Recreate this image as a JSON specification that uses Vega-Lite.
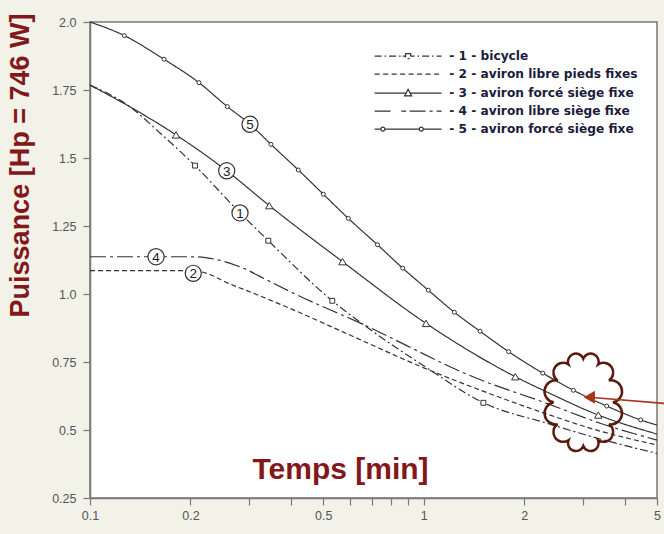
{
  "$schema": "https://vega.github.io/schema/vega-lite/v6.json",
  "width": 567,
  "height": 476,
  "autosize": {"type": "none"},
  "padding": {"left": 90, "top": 22, "right": 7, "bottom": 36},
  "background": "#f2f2e8",
  "config": {
    "font": "Liberation Sans",
    "view": {"stroke": "#777777", "strokeWidth": 1.5, "fill": "white"}
  },
  "datasets": {
    "curves": [
      {"s": "- 1 - bicycle", "t": 0.1, "p": 1.768},
      {"s": "- 1 - bicycle", "t": 0.1318, "p": 1.688},
      {"s": "- 1 - bicycle", "t": 0.1621, "p": 1.592},
      {"s": "- 1 - bicycle", "t": 0.2064, "p": 1.472},
      {"s": "- 1 - bicycle", "t": 0.2815, "p": 1.298},
      {"s": "- 1 - bicycle", "t": 0.3422, "p": 1.196},
      {"s": "- 1 - bicycle", "t": 0.5322, "p": 0.975},
      {"s": "- 1 - bicycle", "t": 0.659, "p": 0.888},
      {"s": "- 1 - bicycle", "t": 1.023, "p": 0.728},
      {"s": "- 1 - bicycle", "t": 1.509, "p": 0.6},
      {"s": "- 1 - bicycle", "t": 2.336, "p": 0.525},
      {"s": "- 1 - bicycle", "t": 3.375, "p": 0.467},
      {"s": "- 1 - bicycle", "t": 5, "p": 0.414},
      {"s": "- 2 - aviron libre pieds fixes", "t": 0.1, "p": 1.086},
      {"s": "- 2 - aviron libre pieds fixes", "t": 0.2, "p": 1.086},
      {"s": "- 2 - aviron libre pieds fixes", "t": 0.2237, "p": 1.076},
      {"s": "- 2 - aviron libre pieds fixes", "t": 0.2568, "p": 1.042},
      {"s": "- 2 - aviron libre pieds fixes", "t": 0.3086, "p": 1.003},
      {"s": "- 2 - aviron libre pieds fixes", "t": 0.3975, "p": 0.947},
      {"s": "- 2 - aviron libre pieds fixes", "t": 0.6012, "p": 0.849},
      {"s": "- 2 - aviron libre pieds fixes", "t": 1.0207, "p": 0.724},
      {"s": "- 2 - aviron libre pieds fixes", "t": 1.475, "p": 0.647},
      {"s": "- 2 - aviron libre pieds fixes", "t": 2.336, "p": 0.559},
      {"s": "- 2 - aviron libre pieds fixes", "t": 3.375, "p": 0.496},
      {"s": "- 2 - aviron libre pieds fixes", "t": 5, "p": 0.445},
      {"s": "- 3 - aviron forcé siège fixe", "t": 0.1, "p": 1.768},
      {"s": "- 3 - aviron forcé siège fixe", "t": 0.1318, "p": 1.688},
      {"s": "- 3 - aviron forcé siège fixe", "t": 0.181, "p": 1.585},
      {"s": "- 3 - aviron forcé siège fixe", "t": 0.2568, "p": 1.453},
      {"s": "- 3 - aviron forcé siège fixe", "t": 0.3445, "p": 1.325},
      {"s": "- 3 - aviron forcé siège fixe", "t": 0.571, "p": 1.119},
      {"s": "- 3 - aviron forcé siège fixe", "t": 1.016, "p": 0.892},
      {"s": "- 3 - aviron forcé siège fixe", "t": 1.881, "p": 0.696},
      {"s": "- 3 - aviron forcé siège fixe", "t": 2.336, "p": 0.64},
      {"s": "- 3 - aviron forcé siège fixe", "t": 3.335, "p": 0.555},
      {"s": "- 3 - aviron forcé siège fixe", "t": 5, "p": 0.485},
      {"s": "- 4 - aviron libre siège fixe", "t": 0.1, "p": 1.137},
      {"s": "- 4 - aviron libre siège fixe", "t": 0.2, "p": 1.137},
      {"s": "- 4 - aviron libre siège fixe", "t": 0.2237, "p": 1.133},
      {"s": "- 4 - aviron libre siège fixe", "t": 0.2815, "p": 1.1},
      {"s": "- 4 - aviron libre siège fixe", "t": 0.3384, "p": 1.052},
      {"s": "- 4 - aviron libre siège fixe", "t": 0.3975, "p": 1.009},
      {"s": "- 4 - aviron libre siège fixe", "t": 0.659, "p": 0.888},
      {"s": "- 4 - aviron libre siège fixe", "t": 1.441, "p": 0.69},
      {"s": "- 4 - aviron libre siège fixe", "t": 2.336, "p": 0.598},
      {"s": "- 4 - aviron libre siège fixe", "t": 3.375, "p": 0.525},
      {"s": "- 4 - aviron libre siège fixe", "t": 5, "p": 0.463},
      {"s": "- 5 - aviron forcé siège fixe", "t": 0.1, "p": 2.0},
      {"s": "- 5 - aviron forcé siège fixe", "t": 0.1267, "p": 1.95},
      {"s": "- 5 - aviron forcé siège fixe", "t": 0.1666, "p": 1.863},
      {"s": "- 5 - aviron forcé siège fixe", "t": 0.2121, "p": 1.777},
      {"s": "- 5 - aviron forcé siège fixe", "t": 0.2579, "p": 1.689},
      {"s": "- 5 - aviron forcé siège fixe", "t": 0.3016, "p": 1.624},
      {"s": "- 5 - aviron forcé siège fixe", "t": 0.3486, "p": 1.55},
      {"s": "- 5 - aviron forcé siège fixe", "t": 0.4209, "p": 1.456},
      {"s": "- 5 - aviron forcé siège fixe", "t": 0.5002, "p": 1.367},
      {"s": "- 5 - aviron forcé siège fixe", "t": 0.5943, "p": 1.278},
      {"s": "- 5 - aviron forcé siège fixe", "t": 0.7268, "p": 1.181},
      {"s": "- 5 - aviron forcé siège fixe", "t": 0.865, "p": 1.095},
      {"s": "- 5 - aviron forcé siège fixe", "t": 1.032, "p": 1.014},
      {"s": "- 5 - aviron forcé siège fixe", "t": 1.235, "p": 0.933},
      {"s": "- 5 - aviron forcé siège fixe", "t": 1.475, "p": 0.863},
      {"s": "- 5 - aviron forcé siège fixe", "t": 1.797, "p": 0.788},
      {"s": "- 5 - aviron forcé siège fixe", "t": 2.273, "p": 0.709},
      {"s": "- 5 - aviron forcé siège fixe", "t": 2.808, "p": 0.646},
      {"s": "- 5 - aviron forcé siège fixe", "t": 3.534, "p": 0.588},
      {"s": "- 5 - aviron forcé siège fixe", "t": 4.467, "p": 0.537},
      {"s": "- 5 - aviron forcé siège fixe", "t": 5, "p": 0.518}
    ],
    "markers": [
      {"s": "- 1 - bicycle", "t": 0.2064, "p": 1.472},
      {"s": "- 1 - bicycle", "t": 0.3422, "p": 1.196},
      {"s": "- 1 - bicycle", "t": 0.5322, "p": 0.975},
      {"s": "- 1 - bicycle", "t": 1.509, "p": 0.6},
      {"s": "- 3 - aviron forcé siège fixe", "t": 0.181, "p": 1.585},
      {"s": "- 3 - aviron forcé siège fixe", "t": 0.3445, "p": 1.325},
      {"s": "- 3 - aviron forcé siège fixe", "t": 0.571, "p": 1.119},
      {"s": "- 3 - aviron forcé siège fixe", "t": 1.016, "p": 0.892},
      {"s": "- 3 - aviron forcé siège fixe", "t": 1.881, "p": 0.696},
      {"s": "- 3 - aviron forcé siège fixe", "t": 3.335, "p": 0.555},
      {"s": "- 5 - aviron forcé siège fixe", "t": 0.1267, "p": 1.95},
      {"s": "- 5 - aviron forcé siège fixe", "t": 0.1666, "p": 1.863},
      {"s": "- 5 - aviron forcé siège fixe", "t": 0.2121, "p": 1.777},
      {"s": "- 5 - aviron forcé siège fixe", "t": 0.2579, "p": 1.689},
      {"s": "- 5 - aviron forcé siège fixe", "t": 0.3486, "p": 1.55},
      {"s": "- 5 - aviron forcé siège fixe", "t": 0.4209, "p": 1.456},
      {"s": "- 5 - aviron forcé siège fixe", "t": 0.5002, "p": 1.367},
      {"s": "- 5 - aviron forcé siège fixe", "t": 0.5943, "p": 1.278},
      {"s": "- 5 - aviron forcé siège fixe", "t": 0.7268, "p": 1.181},
      {"s": "- 5 - aviron forcé siège fixe", "t": 0.865, "p": 1.095},
      {"s": "- 5 - aviron forcé siège fixe", "t": 1.032, "p": 1.014},
      {"s": "- 5 - aviron forcé siège fixe", "t": 1.235, "p": 0.933},
      {"s": "- 5 - aviron forcé siège fixe", "t": 1.475, "p": 0.863},
      {"s": "- 5 - aviron forcé siège fixe", "t": 1.797, "p": 0.788},
      {"s": "- 5 - aviron forcé siège fixe", "t": 2.273, "p": 0.709},
      {"s": "- 5 - aviron forcé siège fixe", "t": 2.808, "p": 0.646},
      {"s": "- 5 - aviron forcé siège fixe", "t": 3.534, "p": 0.588},
      {"s": "- 5 - aviron forcé siège fixe", "t": 4.467, "p": 0.537}
    ],
    "tags": [
      {"n": "5", "t": 0.3016, "p": 1.624},
      {"n": "3", "t": 0.2568, "p": 1.453},
      {"n": "1", "t": 0.2815, "p": 1.298},
      {"n": "4", "t": 0.1577, "p": 1.137},
      {"n": "2", "t": 0.2039, "p": 1.076}
    ],
    "cloud": [{"t": 3.007, "p": 0.6017}],
    "arrow": [{"t": 5.248, "p": 0.598, "t2": 3.134, "p2": 0.6206}],
    "head": [{"t": 3.134, "p": 0.6206}]
  },
  "encoding": {
    "x": {
      "field": "t", "type": "quantitative",
      "scale": {"type": "log", "domain": [0.1, 5], "nice": false},
      "axis": {
        "values": [0.1, 0.2, 0.3, 0.4, 0.5, 0.6, 0.7, 0.8, 0.9, 1, 2, 3, 4, 5],
        "labelExpr": "indexof([0.1, 0.2, 0.5, 1, 2, 5], datum.value) >= 0 ? toString(datum.value) : ''",
        "labelOverlap": false, "labelFlush": false, "grid": false,
        "labelFont": "Liberation Sans", "labelFontSize": 12.5, "labelColor": "#555555", "labelPadding": 4,
        "tickSize": 7, "tickColor": "#777777", "tickWidth": 1.2,
        "domainColor": "#777777", "domainWidth": 1.5,
        "title": "Temps [min]", "titleX": 250, "titleY": -20, "titleAlign": "center", "titleBaseline": "alphabetic",
        "titleFont": "Liberation Sans", "titleFontSize": 30, "titleFontWeight": "bold", "titleColor": "#82181a"
      }
    },
    "y": {
      "field": "p", "type": "quantitative",
      "scale": {"domain": [0.25, 2.0], "nice": false, "zero": false},
      "axis": {
        "values": [0.25, 0.5, 0.75, 1, 1.25, 1.5, 1.75, 2],
        "labelExpr": "datum.value == 2 ? '2.0' : datum.value == 1 ? '1.0' : toString(datum.value)",
        "grid": false,
        "labelFont": "Liberation Sans", "labelFontSize": 12.5, "labelColor": "#555555", "labelPadding": 7,
        "tickSize": 7, "tickColor": "#777777", "tickWidth": 1.2,
        "domainColor": "#777777", "domainWidth": 1.5,
        "title": "Puissance [Hp = 746 W]", "titleX": -56, "titleY": 143, "titleAlign": "center", "titleBaseline": "bottom", "titleAngle": -90,
        "titleFont": "Liberation Sans", "titleFontSize": 27, "titleFontWeight": "bold", "titleColor": "#82181a"
      }
    }
  },
  "layer": [
    {
      "data": {"name": "curves"},
      "mark": {"type": "line", "interpolate": "monotone", "color": "#333333", "strokeWidth": 1.2},
      "encoding": {
        "strokeDash": {
          "field": "s", "type": "nominal",
          "scale": {
            "domain": ["- 1 - bicycle", "- 2 - aviron libre pieds fixes", "- 3 - aviron forcé siège fixe", "- 4 - aviron libre siège fixe", "- 5 - aviron forcé siège fixe"],
            "range": [[8, 3, 2, 3], [5, 3], [1, 0], [16, 4, 3, 4], [1, 0]]
          },
          "legend": {
            "title": null, "orient": "none", "legendX": 312, "legendY": 28, "padding": 0,
            "symbolSize": 100, "symbolStrokeWidth": 1.2, "symbolStrokeColor": "#333333",
            "labelFont": "DejaVu Sans", "labelFontSize": 12.2, "labelFontWeight": "bold", "labelColor": "#1c1c3c",
            "labelOffset": 35, "rowPadding": 5, "labelLimit": 300,
            "encode": {
              "symbols": {
                "update": {
                  "shape": {"signal": "substring(datum.value, 2, 3) == '1' ? 'M-6.7,0L-5.3,0M-4.7,0L-4.4,0M-3.8,0L-2.4,0M-1.8,0L-1.5,0M-1.1,0L-0.5,0M-0.5,-0.5L0.5,-0.5L0.5,0.5L-0.5,0.5ZM0.5,0L1.3,0M1.9,0L2.2,0M2.8,0L4.2,0M4.8,0L5.1,0M5.7,0L6.7,0' : substring(datum.value, 2, 3) == '2' ? 'M-6.7,0L-5.7,0M-5,0L-4,0M-3.3,0L-2.3,0M-1.6,0L-0.6,0M0.1,0L1.1,0M1.8,0L2.8,0M3.5,0L4.5,0M5.2,0L6.2,0' : substring(datum.value, 2, 3) == '3' ? 'M-6.7,0L-0.42,0M0.42,0L6.7,0M0,-0.75L0.7,0.55L-0.7,0.55Z' : substring(datum.value, 2, 3) == '4' ? 'M-6.7,0L-3.05,0M-1.35,0L-0.4,0M0.3,0L6.7,0' : 'M-6.7,0L-5.44,0M-4.64,0L2.24,0M3.04,0L6.7,0M-5.44,0A0.4,0.4 0 1 0 -4.64,0A0.4,0.4 0 1 0 -5.44,0ZM2.24,0A0.4,0.4 0 1 0 3.04,0A0.4,0.4 0 1 0 2.24,0Z'"},
                  "strokeDash": {"value": [1, 0]},
                  "fill": {"value": "white"},
                  "stroke": {"value": "#333333"}
                }
              }
            }
          }
        }
      }
    },
    {
      "data": {"name": "markers"},
      "transform": [{"filter": "datum.s == '- 1 - bicycle'"}],
      "mark": {"type": "point", "shape": "square", "size": 24, "filled": true, "fill": "white", "stroke": "#333333", "strokeWidth": 1, "opacity": 1}
    },
    {
      "data": {"name": "markers"},
      "transform": [{"filter": "datum.s == '- 3 - aviron forcé siège fixe'"}],
      "mark": {"type": "point", "shape": "triangle-up", "size": 55, "filled": true, "fill": "white", "stroke": "#333333", "strokeWidth": 1, "opacity": 1}
    },
    {
      "data": {"name": "markers"},
      "transform": [{"filter": "datum.s == '- 5 - aviron forcé siège fixe'"}],
      "mark": {"type": "point", "shape": "circle", "size": 16, "filled": true, "fill": "white", "stroke": "#333333", "strokeWidth": 1, "opacity": 1}
    },
    {
      "data": {"name": "tags"},
      "mark": {"type": "point", "shape": "circle", "size": 260, "filled": true, "fill": "white", "stroke": "#333333", "strokeWidth": 1.2, "opacity": 1}
    },
    {
      "data": {"name": "tags"},
      "mark": {"type": "text", "font": "Liberation Sans", "fontSize": 13.5, "color": "#222222", "baseline": "middle", "align": "center", "dy": 1},
      "encoding": {"text": {"field": "n"}}
    },
    {
      "data": {"name": "cloud"},
      "mark": {
        "type": "point", "filled": false, "stroke": "#5b1a0e", "strokeWidth": 2.5, "opacity": 1, "size": 5776,
        "shape": "M0.78,0A0.1,0.1 0 0 1 0.675,0.575A0.1,0.1 0 0 1 0.39,0.996A0.1,0.1 0 0 1 0,1.15A0.1,0.1 0 0 1 -0.39,0.996A0.1,0.1 0 0 1 -0.675,0.575A0.1,0.1 0 0 1 -0.78,0A0.1,0.1 0 0 1 -0.675,-0.575A0.1,0.1 0 0 1 -0.39,-0.996A0.1,0.1 0 0 1 0,-1.15A0.1,0.1 0 0 1 0.39,-0.996A0.1,0.1 0 0 1 0.675,-0.575A0.1,0.1 0 0 1 0.78,0Z"
      }
    },
    {
      "data": {"name": "arrow"},
      "mark": {"type": "rule", "color": "#a8361c", "strokeWidth": 1.6},
      "encoding": {"x2": {"field": "t2"}, "y2": {"field": "p2"}}
    },
    {
      "data": {"name": "head"},
      "mark": {"type": "point", "shape": "triangle-left", "size": 170, "filled": true, "color": "#a8361c", "opacity": 1}
    }
  ]
}
